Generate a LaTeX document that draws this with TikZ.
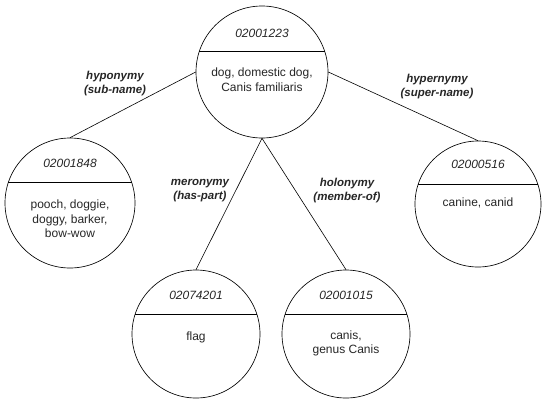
\documentclass[tikz,border=0pt]{standalone}
\usepackage{fontspec}
\setmainfont{Liberation Sans}
\begin{document}
\begin{tikzpicture}[x=1pt,y=-1pt,
  syn/.style={draw=black, line width=0.65pt, circle, inner sep=0pt, minimum size=#1},
  syn/.default=130pt,
  idtxt/.style={font=\fontsize{12}{14}\selectfont\itshape, text=black!85},
  nametxt/.style={font=\fontsize{12}{14.5}\selectfont, align=center, inner sep=0pt, text=black!85},
  reltxt/.style={font=\fontsize{11.5}{14}\selectfont\bfseries\itshape, align=center, inner sep=0pt, text=black!85},
  conn/.style={draw=black, line width=0.6pt}]
\useasboundingbox (0,0) rectangle (542,400);
% circles
\node[syn=132pt] (dog) at (262,72) {};
\node[syn=130pt] (hypo) at (70,203) {};
\node[syn=126pt] (hyper) at (478,204) {};
\node[syn=128pt] (mero) at (196,334) {};
\node[syn=128pt] (holo) at (346,334) {};
% dividers
\foreach \n in {dog,hypo,hyper,mero,holo}{
  \draw[line width=0.65pt] (\n.162) -- (\n.18);
}
% ids
\node[idtxt] (iddog) at (262,33) {02001223};
\node[idtxt] (idhypo) at (70,163) {02001848};
\node[idtxt] (idhyper) at (478,164) {02000516};
\node[idtxt] (idmero) at (196,295) {02074201};
\node[idtxt] (idholo) at (346,295) {02001015};
% names
\node[nametxt] (ndog) at (262,79.5) {dog, domestic dog,\\Canis familiaris};
\node[nametxt] (nhypo) at (70,219) {pooch, doggie,\\doggy, barker,\\bow-wow};
\node[nametxt] (nhyper) at (478,203) {canine, canid};
\node[nametxt] (nmero) at (196,337) {flag};
\node[nametxt] (nholo) at (346,343.5) {canis,\\genus Canis};
% connectors
\draw[conn] (dog.west) -- (hypo.north);
\draw[conn] (dog.east) -- (hyper.north);
\draw[conn] (dog.south) -- (mero.north);
\draw[conn] (dog.south) -- (holo.north);
% relation labels
\node[reltxt] (lhypo) at (115,84) {hyponymy\\(sub-name)};
\node[reltxt] (lhyper) at (437,87) {hypernymy\\(super-name)};
\node[reltxt] (lmero) at (200,190.5) {meronymy\\(has-part)};
\node[reltxt] (lholo) at (347,190.5) {holonymy\\(member-of)};
\end{tikzpicture}
\end{document}
